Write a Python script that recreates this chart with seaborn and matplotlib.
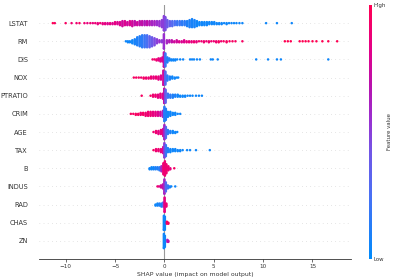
import warnings

import matplotlib
matplotlib.use("Agg")
import matplotlib.pyplot as plt
import numpy as np
import pandas as pd
import seaborn as sns
from matplotlib.colors import LinearSegmentedColormap, Normalize
from matplotlib.cm import ScalarMappable

warnings.filterwarnings("ignore")

# feature order, top to bottom
features = ["LSTAT", "RM", "DIS", "NOX", "PTRATIO", "CRIM", "AGE",
            "TAX", "B", "INDUS", "RAD", "CHAS", "ZN"]

# (shap value, number of samples, feature value 0=low .. 1=high)
lstat = [(-11.3, 1, 1.0), (-11.1, 1, 0.95), (-10.0, 1, 0.95), (-9.4, 1, 0.9), (-8.9, 1, 0.9),
         (-8.6, 1, 0.95), (-8.1, 1, 0.9), (-7.8, 1, 0.85), (-7.5, 1, 0.9), (-7.25, 1, 0.85),
         (-7.0, 1, 0.9), (-6.75, 2, 0.85), (-6.5, 1, 0.9), (-6.25, 2, 0.85), (-6.0, 2, 0.85),
         (-5.75, 2, 0.8), (-5.5, 2, 0.85), (-5.25, 2, 0.8), (-5.0, 3, 0.85), (-4.75, 3, 0.8),
         (-4.5, 4, 0.8), (-4.25, 6, 0.75), (-4.0, 5, 0.8), (-3.75, 4, 0.75), (-3.5, 5, 0.8),
         (-3.25, 6, 0.75), (-3.0, 5, 0.7), (-2.75, 4, 0.75), (-2.5, 5, 0.7), (-2.25, 5, 0.7),
         (-2.0, 5, 0.65), (-1.75, 5, 0.7), (-1.5, 5, 0.65), (-1.25, 5, 0.6), (-1.0, 5, 0.6),
         (-0.75, 5, 0.55), (-0.5, 6, 0.55), (-0.25, 8, 0.5), (-0.05, 16, 0.5), (0.1, 14, 0.45),
         (0.3, 8, 0.4), (0.55, 6, 0.35), (0.8, 6, 0.3), (1.05, 5, 0.25), (1.3, 5, 0.2),
         (1.55, 5, 0.2), (1.8, 5, 0.15), (2.05, 5, 0.15), (2.3, 6, 0.1), (2.55, 8, 0.1),
         (2.8, 9, 0.08), (3.05, 8, 0.08), (3.3, 6, 0.05), (3.55, 4, 0.05), (3.8, 4, 0.05),
         (4.05, 4, 0.05), (4.3, 4, 0.05), (4.55, 3, 0.05), (4.8, 3, 0.05), (5.05, 3, 0.05),
         (5.3, 2, 0.05), (5.55, 2, 0.05), (5.8, 2, 0.05), (6.05, 1, 0.05), (6.3, 2, 0.05),
         (6.55, 1, 0.05), (6.8, 1, 0.05), (7.05, 1, 0.05), (7.3, 1, 0.05), (7.6, 1, 0.05),
         (7.9, 1, 0.05), (10.3, 1, 0.05), (11.4, 1, 0.05), (12.9, 1, 0.05)]
rm = [(-3.9, 1, 0.05), (-3.7, 2, 0.05), (-3.5, 2, 0.05), (-3.25, 4, 0.05), (-3.0, 6, 0.08),
      (-2.75, 9, 0.1), (-2.5, 11, 0.12), (-2.25, 13, 0.15), (-2.0, 13, 0.2), (-1.75, 13, 0.25),
      (-1.5, 12, 0.35), (-1.25, 10, 0.4), (-1.0, 8, 0.45), (-0.75, 5, 0.5), (-0.5, 3, 0.55),
      (-0.25, 3, 0.5), (-0.05, 16, 0.55), (0.25, 4, 0.6), (0.5, 3, 0.65), (0.75, 3, 0.7),
      (1.0, 2, 0.75), (1.25, 3, 0.75), (1.5, 2, 0.8), (1.75, 2, 0.8), (2.0, 3, 0.8),
      (2.25, 2, 0.85), (2.5, 2, 0.85), (2.75, 2, 0.85), (3.0, 2, 0.9), (3.25, 2, 0.85),
      (3.5, 1, 0.9), (3.75, 1, 0.9), (4.0, 2, 0.9), (4.25, 1, 0.9), (4.5, 2, 0.9),
      (4.75, 1, 0.9), (5.0, 1, 0.9), (5.25, 2, 0.9), (5.5, 2, 0.95), (5.75, 1, 0.9),
      (6.0, 1, 0.95), (6.3, 2, 0.95), (6.6, 1, 0.95), (6.9, 1, 0.95), (7.2, 1, 0.95),
      (7.9, 1, 0.95), (12.2, 1, 1.0), (12.5, 1, 1.0), (12.8, 1, 1.0), (13.7, 1, 1.0),
      (14.0, 1, 1.0), (14.3, 1, 1.0), (14.6, 1, 1.0), (15.0, 1, 1.0), (15.4, 1, 1.0),
      (16.0, 1, 1.0), (16.6, 1, 1.0), (17.5, 1, 1.0)]
dis = [(-1.2, 1, 0.9), (-1.0, 1, 0.95), (-0.8, 2, 0.9), (-0.6, 3, 0.85), (-0.4, 4, 0.8),
       (-0.2, 5, 0.8), (-0.05, 16, 0.7), (0.1, 14, 0.2), (0.3, 6, 0.1), (0.5, 3, 0.1),
       (0.7, 2, 0.05), (0.9, 2, 0.05), (1.1, 2, 0.05), (1.3, 1, 0.05), (1.6, 1, 0.05),
       (1.9, 1, 0.05), (2.6, 1, 0.05), (2.8, 1, 0.05), (3.0, 1, 0.05), (3.3, 1, 0.05),
       (3.6, 1, 0.05), (4.7, 1, 0.05), (4.9, 1, 0.05), (5.4, 1, 0.05), (9.3, 1, 0.05),
       (10.5, 1, 0.05), (11.4, 1, 0.05), (11.8, 1, 0.05), (16.6, 1, 0.05)]
nox = [(-3.1, 1, 0.95), (-2.85, 1, 0.95), (-2.6, 1, 0.95), (-2.35, 1, 0.9), (-2.1, 2, 0.95),
       (-1.85, 2, 0.9), (-1.6, 2, 0.9), (-1.35, 3, 0.9), (-1.1, 3, 0.85), (-0.85, 3, 0.9),
       (-0.6, 4, 0.85), (-0.35, 5, 0.8), (-0.1, 16, 0.75), (0.1, 14, 0.3), (0.3, 6, 0.15),
       (0.55, 4, 0.1), (0.8, 3, 0.05), (1.05, 2, 0.05), (1.25, 1, 0.05), (1.4, 1, 0.05)]
ptratio = [(-2.3, 1, 0.95), (-1.4, 1, 0.95), (-1.15, 3, 0.9), (-0.9, 3, 0.9), (-0.65, 4, 0.85),
           (-0.4, 5, 0.85), (-0.15, 6, 0.8), (-0.02, 16, 0.7), (0.12, 14, 0.35), (0.35, 5, 0.2),
           (0.6, 4, 0.15), (0.85, 4, 0.1), (1.1, 3, 0.1), (1.35, 3, 0.05), (1.6, 2, 0.05),
           (1.85, 2, 0.05), (2.1, 2, 0.05), (2.35, 1, 0.05), (2.6, 1, 0.05), (2.85, 1, 0.05),
           (3.2, 1, 0.05), (3.5, 1, 0.05), (3.8, 1, 0.05)]
crim = [(-3.4, 1, 0.95), (-3.15, 1, 0.95), (-2.9, 2, 0.95), (-2.65, 2, 0.95), (-2.4, 3, 0.9),
        (-2.15, 3, 0.95), (-1.9, 4, 0.9), (-1.65, 5, 0.9), (-1.4, 5, 0.9), (-1.15, 5, 0.85),
        (-0.9, 5, 0.85), (-0.65, 5, 0.8), (-0.4, 5, 0.75), (-0.15, 7, 0.6), (0.0, 16, 0.15),
        (0.15, 12, 0.1), (0.35, 6, 0.05), (0.6, 5, 0.05), (0.85, 3, 0.05), (1.1, 3, 0.05),
        (1.35, 1, 0.05), (1.6, 1, 0.05)]
age = [(-1.1, 1, 0.9), (-0.85, 3, 0.9), (-0.6, 4, 0.85), (-0.35, 5, 0.85), (-0.12, 8, 0.8),
       (0.0, 16, 0.6), (0.15, 12, 0.3), (0.35, 5, 0.15), (0.6, 3, 0.1), (0.85, 3, 0.05),
       (1.1, 2, 0.05), (1.3, 1, 0.05)]
tax = [(-1.1, 1, 0.95), (-0.85, 3, 0.9), (-0.6, 3, 0.9), (-0.35, 4, 0.85), (-0.12, 7, 0.8),
       (0.0, 16, 0.5), (0.15, 12, 0.2), (0.35, 5, 0.1), (0.6, 4, 0.05), (0.85, 3, 0.05),
       (1.1, 3, 0.05), (1.35, 2, 0.05), (1.6, 2, 0.05), (1.85, 1, 0.05), (2.3, 1, 0.05),
       (2.6, 1, 0.05), (3.2, 1, 0.05), (4.6, 1, 0.05)]
b = [(-1.5, 2, 0.05), (-1.3, 3, 0.05), (-1.1, 3, 0.05), (-0.9, 3, 0.1), (-0.7, 3, 0.1),
     (-0.5, 4, 0.15), (-0.3, 6, 0.6), (-0.1, 12, 0.9), (0.05, 16, 0.9), (0.2, 10, 0.9),
     (0.4, 5, 0.9), (0.6, 2, 0.85), (1.0, 1, 0.95)]
indus = [(-0.7, 1, 0.9), (-0.55, 1, 0.85), (-0.35, 3, 0.75), (-0.15, 5, 0.7), (0.0, 16, 0.6),
         (0.15, 10, 0.3), (0.35, 4, 0.2), (0.55, 2, 0.1), (0.7, 1, 0.05), (1.1, 1, 0.05)]
rad = [(-0.9, 2, 0.05), (-0.7, 3, 0.05), (-0.5, 3, 0.1), (-0.3, 4, 0.1), (-0.12, 5, 0.3),
       (0.02, 16, 0.85), (0.2, 4, 0.9)]
chas = [(-0.05, 16, 0.05), (0.05, 14, 0.05), (0.25, 3, 0.95), (0.4, 2, 0.95)]
zn = [(-0.05, 16, 0.05), (0.05, 12, 0.05), (0.3, 3, 0.6), (0.4, 2, 0.7)]

series = [lstat, rm, dis, nox, ptratio, crim, age, tax, b, indus, rad, chas, zn]

# beeswarm-style stacking: samples sharing a shap value pile up around the row
step = 0.055
rows = []
for pos, pts in enumerate(series):
    for x, n, lvl in pts:
        for k in range(n):
            off = np.ceil(k / 2) * (1 if k % 2 else -1) * step
            rows.append((x, pos + np.clip(off, -0.4, 0.4), lvl))
df = pd.DataFrame(rows, columns=["shap", "row", "level"])

# shap-like red/blue colormap
cmap = LinearSegmentedColormap.from_list(
    "red_blue",
    [(0.0, "#008bfb"), (0.25, "#4a70f4"), (0.42, "#7156e6"), (0.55, "#9a2fd0"),
     (0.68, "#b812ae"), (0.82, "#e2008a"), (1.0, "#ff0052")])

axis_color = "#333333"
plt.rcParams["font.family"] = ["DejaVu Sans"]

fig = plt.figure(figsize=(3.99, 2.78), dpi=100)
ax = fig.add_axes([39 / 399, 19 / 278, 312 / 399, 254 / 278])

for i in range(len(features)):
    ax.axhline(i, color="#cccccc", lw=0.5, dashes=(1, 5), zorder=-1)
ax.axvline(0, color="#999999", lw=0.8, zorder=-1)

sns.scatterplot(data=df, x="shap", y="row", hue="level", palette=cmap,
                hue_norm=(0, 1), s=3.2, linewidth=0, legend=False, ax=ax)

ax.set_xlim(-12.7, 18.9)
ax.set_ylim(len(features), -1)
ax.set_xticks([-10, -5, 0, 5, 10, 15])
ax.set_yticks(range(len(features)))
ax.set_yticklabels(features)
ax.set_ylabel("")
ax.set_xlabel("SHAP value (impact on model output)", fontsize=4.4,
              color=axis_color, labelpad=2)
for s in ["top", "right", "left"]:
    ax.spines[s].set_visible(False)
ax.spines["bottom"].set_color(axis_color)
ax.spines["bottom"].set_linewidth(0.6)
ax.tick_params(axis="y", length=0, pad=8, labelsize=4.8, labelcolor=axis_color)
ax.tick_params(axis="x", length=2, width=0.5, pad=1.5, labelsize=4.1,
               color=axis_color, labelcolor=axis_color)

# colorbar
cax = fig.add_axes([369 / 399, 19 / 278, 2.5 / 399, 254 / 278])
cb = fig.colorbar(ScalarMappable(norm=Normalize(0, 1), cmap=cmap), cax=cax, ticks=[0, 1])
cb.set_ticklabels(["Low", "High"])
cb.outline.set_visible(False)
cb.ax.tick_params(length=0, pad=1.5, labelsize=3.9, labelcolor=axis_color)
cb.set_label("Feature value", size=3.9, color=axis_color, labelpad=1)

fig.savefig("out.png", dpi=100)
